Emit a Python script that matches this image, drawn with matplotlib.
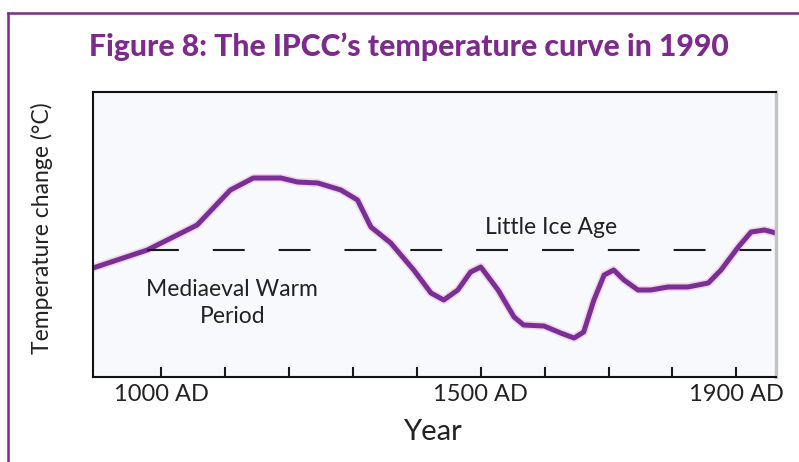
import matplotlib.pyplot as plt
from matplotlib.lines import Line2D

# schematic curve (years, relative temperature)
years = [893, 978, 1056, 1108, 1144, 1187, 1213, 1245, 1281, 1307, 1328, 1359,
         1395, 1422, 1442, 1464, 1484, 1500, 1527, 1552, 1567, 1599, 1625, 1646,
         1661, 1677, 1693, 1708, 1724, 1746, 1766, 1793, 1824, 1856, 1876, 1903,
         1923, 1944, 1962]
temps = [-0.18, 0.00, 0.25, 0.60, 0.72, 0.72, 0.68, 0.67, 0.60, 0.50, 0.23, 0.07,
         -0.20, -0.43, -0.50, -0.40, -0.22, -0.17, -0.40, -0.67, -0.75, -0.76, -0.83, -0.88,
         -0.82, -0.50, -0.25, -0.20, -0.30, -0.40, -0.40, -0.37, -0.37, -0.33, -0.20, 0.03,
         0.18, 0.20, 0.17]

ref_years = [978, 1962]
ref_level = [0.0, 0.0]

tick_years = [1000, 1100, 1200, 1300, 1400, 1500, 1600, 1700, 1800, 1900]
tick_labels = ['1000 AD', '', '', '', '', '1500 AD', '', '', '', '1900 AD']

PURPLE = '#7d2a8c'
LINE = '#7a2f94'

plt.rcParams['font.family'] = ['Lato', 'DejaVu Sans']

fig = plt.figure(figsize=(7.99, 4.62), dpi=100)
W, H = 799, 462

# purple frame around the figure (left and top edges visible)
fig.add_artist(Line2D([8 / W, 8 / W], [0, 1 - 13 / H], color=PURPLE, lw=1.8,
                      transform=fig.transFigure))
fig.add_artist(Line2D([8 / W, 1], [1 - 13 / H, 1 - 13 / H], color=PURPLE, lw=1.8,
                      transform=fig.transFigure))

fig.text(409 / W, 1 - 47 / H, "Figure 8: The IPCC\u2019s temperature curve in 1990",
         ha='center', va='center', fontsize=21.7, fontweight='black', color=PURPLE)

ax = fig.add_axes([93 / W, 1 - 377 / H, (776 - 93) / W, (377 - 92) / H])
ax.set_facecolor('#f8f9fc')

ax.plot(years, temps, color='#e8b8d8', lw=6, alpha=0.5, solid_joinstyle='round',
        solid_capstyle='round')
ax.plot(years, temps, color=LINE, lw=3.6, solid_joinstyle='round', solid_capstyle='round')
ax.plot(ref_years, ref_level, color='#1a1a1a', lw=1.5, dashes=(15.3, 16.3))

ax.set_xlim(893, 1962)
ax.set_ylim(-1.27, 1.58)

ax.set_xticks(tick_years, tick_labels)
ax.tick_params(axis='x', direction='in', length=7, width=1.5, color='#1a1a1a',
               labelsize=17, pad=5, labelcolor='#222222')
ax.set_yticks([])

for side in ['left', 'bottom', 'top']:
    ax.spines[side].set_color('#111111')
    ax.spines[side].set_linewidth(1.5)
ax.spines['right'].set_color('#c4c4c4')
ax.spines['right'].set_linewidth(2.5)

ax.text(1111, -0.53, "Mediaeval Warm\nPeriod", ha='center', va='center',
        fontsize=16.5, color='#222222', linespacing=1.4)
ax.text(1610, 0.22, "Little Ice Age", ha='center', va='center', fontsize=16.5,
        color='#222222')

fig.text(432 / W, 1 - 432 / H, "Year", ha='center', va='center', fontsize=21,
         color='#222222')
fig.text(42 / W, 1 - 228 / H, "Temperature change (\u00b0C)", ha='center',
         va='center', rotation=90, fontsize=16.5, color='#222222')

fig.savefig('out.png', dpi=100)
